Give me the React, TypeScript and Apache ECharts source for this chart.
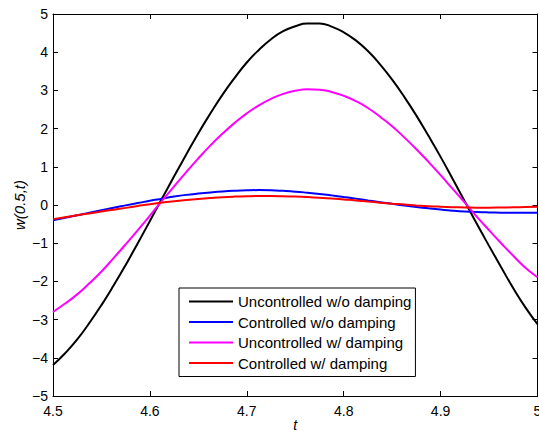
import React, { useEffect, useRef } from "react";
import * as echarts from "echarts";

const tValues = [
  4.5, 4.5125, 4.525, 4.5375, 4.55, 4.5625, 4.575, 4.5875, 4.6, 4.6125,
  4.625, 4.6375, 4.65, 4.6625, 4.675, 4.6875, 4.7, 4.7125, 4.725, 4.7375,
  4.75, 4.7625, 4.775, 4.7875, 4.8, 4.8125, 4.825, 4.8375, 4.85, 4.8625,
  4.875, 4.8875, 4.9, 4.9125, 4.925, 4.9375, 4.95, 4.9625, 4.975, 4.9875, 5.0,
];
const uncontrolledNoDamping = [
  -4.19, -3.88, -3.52, -3.09, -2.62, -2.11, -1.57, -1.0, -0.42, 0.17,
  0.75, 1.32, 1.88, 2.4, 2.89, 3.33, 3.73, 4.06, 4.34, 4.55,
  4.68, 4.75, 4.75, 4.67, 4.52, 4.31, 4.03, 3.68, 3.28, 2.83,
  2.34, 1.81, 1.26, 0.68, 0.09, -0.5, -1.07, -1.63, -2.18, -2.68, -3.12,
];
const controlledNoDamping = [
  -0.4, -0.335, -0.27, -0.2, -0.135, -0.07, -0.01, 0.05, 0.11, 0.165,
  0.22, 0.265, 0.3, 0.33, 0.355, 0.373, 0.385, 0.39, 0.385, 0.37,
  0.35, 0.322, 0.29, 0.252, 0.21, 0.167, 0.12, 0.075, 0.03, -0.012,
  -0.05, -0.087, -0.12, -0.148, -0.17, -0.185, -0.195, -0.202, -0.205, -0.204, -0.2,
];
const uncontrolledDamping = [
  -2.8, -2.58, -2.34, -2.05, -1.74, -1.39, -1.03, -0.66, -0.28, 0.11,
  0.49, 0.86, 1.22, 1.56, 1.87, 2.15, 2.4, 2.61, 2.78, 2.91,
  2.99, 3.03, 3.02, 2.96, 2.86, 2.72, 2.54, 2.31, 2.06, 1.77,
  1.46, 1.13, 0.78, 0.42, 0.06, -0.31, -0.66, -1.0, -1.33, -1.64, -1.89,
];
const controlledDamping = [
  -0.37, -0.32, -0.27, -0.22, -0.17, -0.122, -0.075, -0.027, 0.02, 0.062,
  0.1, 0.132, 0.16, 0.184, 0.205, 0.22, 0.23, 0.235, 0.235, 0.23,
  0.22, 0.207, 0.19, 0.17, 0.145, 0.12, 0.09, 0.062, 0.035, 0.012,
  -0.01, -0.03, -0.045, -0.057, -0.065, -0.07, -0.07, -0.066, -0.06, -0.052, -0.045,
];
const seriesNames = [
  "Uncontrolled w/o damping",
  "Controlled w/o damping",
  "Uncontrolled w/ damping",
  "Controlled w/ damping",
];
const seriesColors = ["#000000", "#0000ff", "#ff00ff", "#ff0000"];
const seriesValues = [
  uncontrolledNoDamping,
  controlledNoDamping,
  uncontrolledDamping,
  controlledDamping,
];

const FONT = "'Liberation Sans', Arial, Helvetica, sans-serif";

export default function App() {
  const ref = useRef<HTMLDivElement>(null);
  useEffect(() => {
    if (!ref.current) return;
    const chart = echarts.init(ref.current, null, { renderer: "svg" });
    const axisLine = { show: true, onZero: false, lineStyle: { color: "#000", width: 1 } };
    const tick = { show: true, inside: true, length: 5, lineStyle: { color: "#000", width: 1 } };
    chart.setOption({
      animation: false,
      backgroundColor: "#fff",
      textStyle: { fontFamily: FONT },
      grid: {
        left: 53,
        right: 1.5,
        top: 14,
        bottom: 35,
        containLabel: false,
        outerBoundsMode: "none",
      },
      legend: {
        orient: "vertical",
        left: 179,
        top: 288,
        data: seriesNames,
        icon: "rect",
        backgroundColor: "#fff",
        borderColor: "#000",
        borderWidth: 1,
        borderRadius: 0,
        padding: [6, 4, 6, 10],
        itemGap: 5.5,
        itemWidth: 44,
        itemHeight: 2,
        textStyle: { fontFamily: FONT, fontSize: 15, color: "#000" },
      },
      xAxis: [
        {
          type: "value",
          min: 4.5,
          max: 5,
          interval: 0.1,
          position: "bottom",
          axisLine,
          axisTick: tick,
          splitLine: { show: false },
          axisLabel: {
            margin: 8,
            fontSize: 14,
            color: "#000",
            fontFamily: FONT,
            formatter: (v: number) => {
              const s = (Math.round(v * 10) / 10).toFixed(1);
              return s.endsWith(".0") ? s.slice(0, -2) : s;
            },
          },
          name: "t",
          nameLocation: "middle",
          nameGap: 22,
          nameMoveOverlap: false,
          nameTextStyle: { fontStyle: "italic", fontSize: 14, color: "#000", fontFamily: FONT },
        },
        {
          type: "value",
          min: 4.5,
          max: 5,
          interval: 0.1,
          position: "top",
          axisLine,
          axisTick: tick,
          axisLabel: { show: false },
          splitLine: { show: false },
        },
      ],
      yAxis: [
        {
          type: "value",
          min: -5,
          max: 5,
          interval: 1,
          position: "left",
          axisLine,
          axisTick: tick,
          splitLine: { show: false },
          axisLabel: {
            margin: 5,
            fontSize: 14,
            color: "#000",
            fontFamily: FONT,
            formatter: (v: number) => (v < 0 ? "\u2212" + Math.abs(v) : String(v)),
          },
          name: "w(0.5,t)",
          nameLocation: "middle",
          nameGap: 26,
          nameMoveOverlap: false,
          nameRotate: 90,
          nameTextStyle: { fontStyle: "italic", fontSize: 15, color: "#000", fontFamily: FONT },
        },
        {
          type: "value",
          min: -5,
          max: 5,
          interval: 1,
          position: "right",
          axisLine,
          axisTick: tick,
          axisLabel: { show: false },
          splitLine: { show: false },
        },
      ],
      series: seriesNames.map((name, i) => ({
        name,
        type: "line",
        xAxisIndex: 0,
        yAxisIndex: 0,
        data: tValues.map((t, j) => [t, seriesValues[i][j]]),
        smooth: true,
        symbol: "none",
        showSymbol: false,
        lineStyle: { color: seriesColors[i], width: 2 },
        itemStyle: { color: seriesColors[i] },
        clip: true,
      })),
    });
    return () => chart.dispose();
  }, []);
  return <div ref={ref} style={{ width: 539, height: 431, position: "absolute", left: 0, top: 0 }} />;
}
